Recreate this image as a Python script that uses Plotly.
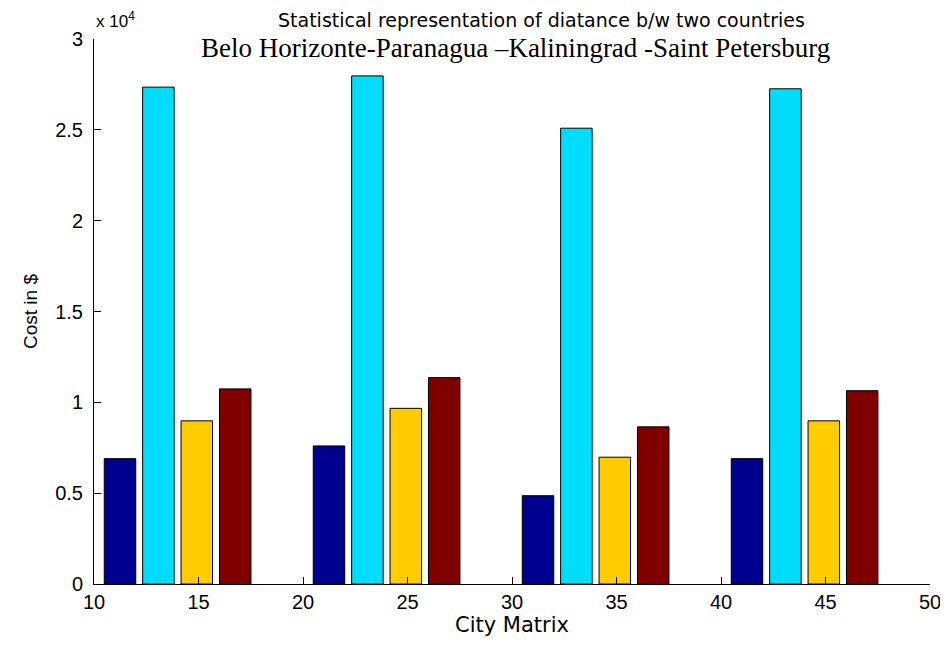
import plotly.graph_objects as go

x_positions = [14, 24, 34, 44]
series_a = [6900, 7600, 4860, 6900]
series_b = [27350, 27970, 25090, 27260]
series_c = [8980, 9670, 6980, 8980]
series_d = [10740, 11360, 8650, 10640]
colors = ["#00008F", "#00DDFA", "#FFCC00", "#800000"]
y_ticks = [0, 5000, 10000, 15000, 20000, 25000, 30000]
y_tick_text = ["0", "0.5", "1", "1.5", "2", "2.5", "3"]
x_ticks = [10, 15, 20, 25, 30, 35, 40, 45, 50]

sans = "Liberation Sans, Arial, sans-serif"
wide = "DejaVu Sans, sans-serif"
serif = "Liberation Serif, Times New Roman, serif"

fig = go.Figure()
for vals, col in zip([series_a, series_b, series_c, series_d], colors):
    fig.add_trace(go.Bar(x=x_positions, y=vals, marker=dict(color=col, line=dict(color="black", width=1))))

fig.update_layout(
    width=940, height=638,
    margin=dict(l=86, r=18, t=31, b=62, autoexpand=False),
    paper_bgcolor="white", plot_bgcolor="white",
    barmode="group", bargap=0.265, bargroupgap=0.18,
    showlegend=False,
    font=dict(family=sans, color="black", size=20),
    xaxis=dict(range=[10, 50], tickvals=x_ticks, ticks="inside", ticklen=7, tickcolor="black",
               showline=True, linecolor="black", linewidth=1, showgrid=False, zeroline=False,
               automargin=False,
               title=dict(text="City Matrix", font=dict(family=wide, size=21), standoff=4),
               tickfont=dict(size=20)),
    yaxis=dict(range=[0, 30000], tickvals=y_ticks, ticktext=y_tick_text, ticks="inside", ticklen=7,
               tickcolor="black", showline=True, linecolor="black", linewidth=1, showgrid=False,
               zeroline=False, automargin=False, ticklabelstandoff=6,
               title=dict(text="Cost in $", font=dict(size=19), standoff=12),
               tickfont=dict(size=20)),
    annotations=[
        dict(text="Statistical representation of diatance b/w two countries", xref="paper", yref="paper",
             x=0.535, y=1.0, yshift=19, yanchor="middle", showarrow=False, font=dict(family=wide, size=19)),
        dict(text="Belo Horizonte-Paranagua \u2013Kaliningrad -Saint Petersburg", xref="paper", yref="paper",
             x=0.504, y=1.0, yshift=-9, yanchor="middle", showarrow=False,
             font=dict(family=serif, size=27)),
        dict(text="x 10<sup>4</sup>", xref="paper", yref="paper", x=0.0, y=1.0, yshift=6, xshift=0,
             xanchor="left", yanchor="bottom", showarrow=False, font=dict(family=sans, size=17)),
    ],
)

fig.write_html("out.html")
